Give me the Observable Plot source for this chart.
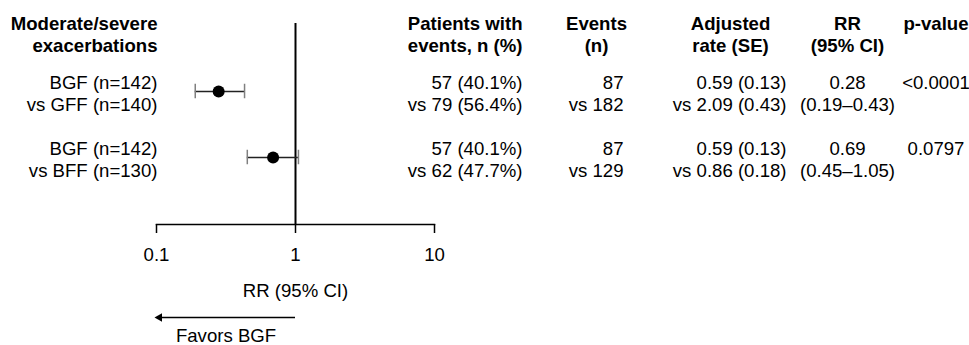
<!DOCTYPE html>
<html>
<head>
<meta charset="utf-8">
<script src="https://cdn.jsdelivr.net/npm/d3@7"></script>
<script src="https://cdn.jsdelivr.net/npm/@observablehq/plot@0.6"></script>
<style>
  html, body { margin: 0; padding: 0; background: #fff; }
  #chart svg { display: block; }
</style>
</head>
<body>
<div id="chart"></div>
<script>
// Moderate/severe exacerbations: BGF versus each comparator
const treatment = ["BGF (n=142)", "BGF (n=142)"];
const comparator = ["GFF (n=140)", "BFF (n=130)"];
const patientsTrt = [57, 57];
const pctTrt = [40.1, 40.1];
const patientsComp = [79, 62];
const pctComp = [56.4, 47.7];
const eventsTrt = [87, 87];
const eventsComp = [182, 129];
const rateTrt = [0.59, 0.59];
const seTrt = [0.13, 0.13];
const rateComp = [2.09, 0.86];
const seComp = [0.43, 0.18];
const rr = [0.28, 0.69];
const rrLow = [0.19, 0.45];
const rrHigh = [0.43, 1.05];
const pValue = ["<0.0001", "0.0797"];
const xTicks = [0.1, 1, 10];

const f1 = d3.format(".1f");
const f2 = d3.format(".2f");

const rows = comparator.map((c, i) => ({
  key: c,
  label: `${treatment[i]}\nvs ${c}`,
  patients: `${patientsTrt[i]} (${f1(pctTrt[i])}%)\nvs ${patientsComp[i]} (${f1(pctComp[i])}%)`,
  events: `${eventsTrt[i]}\nvs ${eventsComp[i]}`,
  rate: `${f2(rateTrt[i])} (${f2(seTrt[i])})\nvs ${f2(rateComp[i])} (${f2(seComp[i])})`,
  ci: `${f2(rr[i])}\n(${f2(rrLow[i])}–${f2(rrHigh[i])})`,
  p: pValue[i],
  rr: rr[i],
  lo: rrLow[i],
  hi: rrHigh[i]
}));

// layout: table columns are offset from the right edge of the forest-plot frame
const FS = 18.6;
const LH = 22 / FS;
const rowDy = 1;
const col = {patients: 88, events: 189, eventsHead: 162, rate: 352, rateHead: 296, ci: 413, p: 501.5};

const header = (text, anchor, dx, textAnchor, dy = 10.4) =>
  Plot.text([text], {
    text: (d) => d, frameAnchor: anchor, dx, dy, textAnchor,
    lineAnchor: "middle", lineHeight: LH, fontWeight: "bold", fill: "#000"
  });

const column = (field, dx, textAnchor, dy = rowDy) =>
  Plot.text(rows, {
    text: field, y: "key", frameAnchor: "right", dx, dy, textAnchor,
    lineAnchor: "middle", lineHeight: LH, fill: "#000"
  });

const chart = Plot.plot({
  width: 969,
  height: 345,
  marginLeft: 156,
  marginRight: 535,
  marginTop: 23,
  marginBottom: 121,
  style: {fontFamily: "'Liberation Sans', Arial, Helvetica, sans-serif", fontSize: `${FS}px`, color: "#000", background: "#fff"},
  x: {type: "log", domain: [0.1, 10]},
  y: {type: "band", domain: rows.map((d) => d.key), range: [57.25, 190.25], padding: 0, axis: null},
  marks: [
    // column headers
    header("Moderate/severe\nexacerbations", "top-left", 1, "end"),
    header("Patients with\nevents, n (%)", "top-right", col.patients, "end"),
    header("Events\n(n)", "top-right", col.eventsHead, "middle"),
    header("Adjusted\nrate (SE)", "top-right", col.rateHead, "middle"),
    header("RR\n(95% CI)", "top-right", col.ci, "middle"),
    header("p-value", "top-right", col.p, "middle", -0.6),

    // comparison labels and table values
    Plot.text(rows, {
      text: "label", y: "key", frameAnchor: "left", dx: 1, dy: rowDy, textAnchor: "end",
      lineAnchor: "middle", lineHeight: LH, fill: "#000"
    }),
    column("patients", col.patients, "end"),
    column("events", col.events, "end"),
    column("rate", col.rate, "end"),
    column("ci", col.ci, "middle"),
    column("p", col.p, "middle", rowDy - 11),

    // axis line and ticks
    Plot.frame({anchor: "bottom", stroke: "#000", strokeWidth: 1.5}),
    Plot.axisX({ticks: xTicks, tickSize: 9, tickPadding: 14, tickFormat: (d) => `${d}`, label: null, strokeWidth: 1.5, fontSize: FS}),

    // line of no effect
    Plot.ruleX([1], {stroke: "#000", strokeWidth: 2}),

    // confidence intervals with caps, and rate ratio points
    Plot.ruleY(rows, {y: "key", x1: "lo", x2: "hi", stroke: "#222", strokeWidth: 1.5}),
    Plot.tickX(rows, {x: "lo", y: "key", stroke: "#808080", strokeWidth: 1.5, insetTop: 25.75, insetBottom: 25.75}),
    Plot.tickX(rows, {x: "hi", y: "key", stroke: "#808080", strokeWidth: 1.5, insetTop: 25.75, insetBottom: 25.75}),
    Plot.dot(rows, {x: "rr", y: "key", r: 6, fill: "#000", stroke: null}),

    // axis title
    Plot.text(["RR (95% CI)"], {text: (d) => d, frameAnchor: "bottom", dy: 66.5, lineAnchor: "middle", fill: "#000"}),

    // direction arrow
    Plot.ruleY([xTicks], {y: null, x1: (d) => d[1], x2: (d) => d[0] * 1.03, dy: 193.5, stroke: "#000", strokeWidth: 1.5}),
    Plot.dot([xTicks[0]], {x: (d) => d, frameAnchor: "bottom", dx: 3, dy: 93, symbol: "triangle", rotate: -90, r: 3.2, fill: "#000", stroke: null}),
    Plot.text(["Favors BGF"], {text: (d) => d, x: () => Math.sqrt(xTicks[0] * xTicks[1]), frameAnchor: "bottom", dy: 112, lineAnchor: "middle", fill: "#000"})
  ]
});

document.getElementById("chart").append(chart);
</script>
</body>
</html>
